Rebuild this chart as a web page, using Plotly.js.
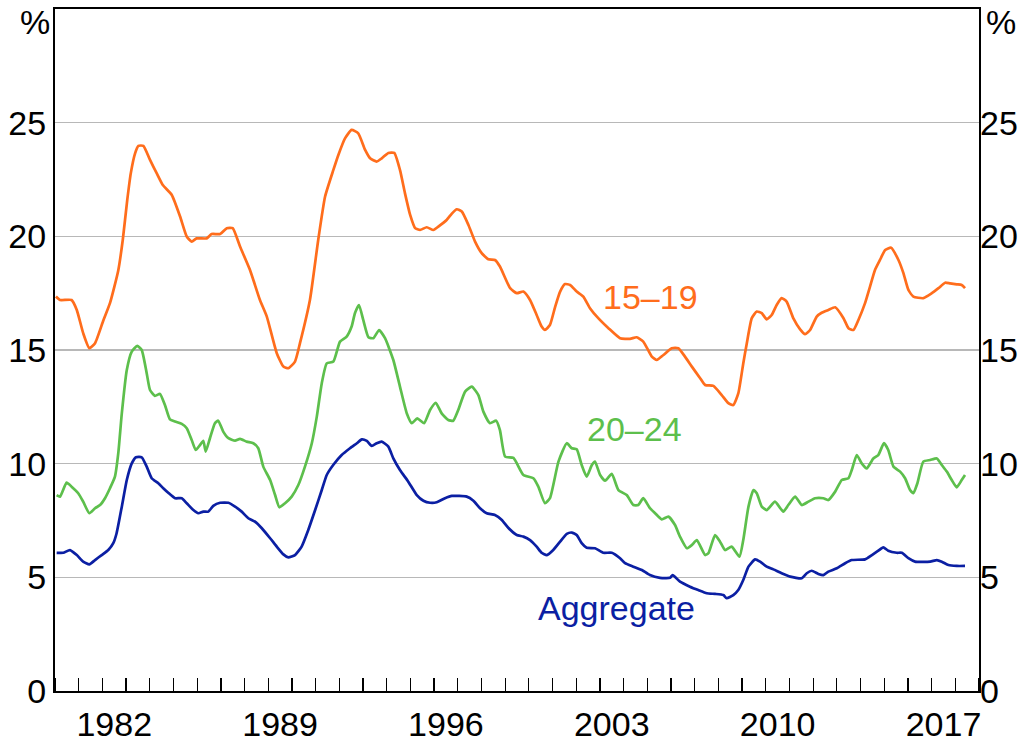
<!DOCTYPE html>
<html>
<head>
<meta charset="utf-8">
<script src="https://cdn.plot.ly/plotly-3.0.1.min.js"></script>
<style>html,body{margin:0;padding:0;background:#fff}#chart{width:1030px;height:745px}</style>
</head>
<body>
<div id="chart"></div>
<script>
// ---- Data (year as decimal, unemployment rate %) ----
const teenYears = [1980.04,1980.21,1980.70,1980.92,1981.19,1981.45,1981.69,1982.04,1982.32,1982.67,1982.86,1983.05,1983.20,1983.38,1983.52,1983.73,1984.01,1984.29,1984.55,1984.93,1985.28,1985.56,1985.77,1985.98,1986.40,1986.61,1986.97,1987.25,1987.50,1987.81,1988.23,1988.65,1988.94,1989.36,1989.64,1989.85,1990.13,1990.34,1990.76,1991.11,1991.40,1991.75,1991.96,1992.24,1992.52,1992.80,1993.09,1993.30,1993.58,1993.79,1994.07,1994.32,1994.56,1994.77,1994.99,1995.20,1995.41,1995.69,1995.97,1996.18,1996.53,1996.75,1996.96,1997.17,1997.45,1997.73,1998.01,1998.29,1998.57,1998.78,1999.21,1999.49,1999.77,2000.05,2000.33,2000.54,2000.68,2000.89,2001.11,2001.32,2001.53,2001.74,2002.02,2002.30,2002.58,2002.93,2003.36,2003.85,2004.27,2004.55,2004.83,2005.19,2005.40,2005.68,2006.03,2006.31,2006.59,2006.88,2007.23,2007.44,2007.79,2008.14,2008.42,2008.63,2008.84,2009.05,2009.20,2009.41,2009.62,2009.83,2010.04,2010.25,2010.46,2010.67,2010.88,2011.16,2011.45,2011.66,2011.87,2012.15,2012.36,2012.64,2012.93,2013.28,2013.49,2013.70,2013.91,2014.19,2014.40,2014.61,2014.82,2015.04,2015.29,2015.60,2015.81,2016.02,2016.23,2016.65,2017.01,2017.29,2017.57,2017.78,2018.06,2018.27,2018.41];
const teenRate = [17.35,17.2,17.2,16.76,15.74,15.08,15.3,16.3,17.06,18.5,19.84,21.6,22.78,23.65,23.98,23.98,23.36,22.78,22.26,21.82,20.87,19.99,19.77,19.91,19.91,20.1,20.1,20.36,20.36,19.55,18.52,17.2,16.47,14.86,14.27,14.2,14.49,15.3,17.2,19.84,21.75,22.92,23.58,24.31,24.68,24.53,23.8,23.43,23.29,23.43,23.67,23.67,22.92,21.9,20.94,20.36,20.28,20.4,20.28,20.43,20.72,21.0,21.19,21.09,20.5,19.77,19.26,18.99,18.96,18.67,17.72,17.5,17.57,17.2,16.54,16.03,15.88,16.1,16.9,17.57,17.9,17.86,17.57,17.35,16.84,16.4,15.96,15.52,15.49,15.56,15.37,14.71,14.56,14.78,15.08,15.08,14.71,14.27,13.76,13.46,13.42,13.02,12.66,12.58,13.09,14.41,15.3,16.4,16.69,16.62,16.35,16.54,16.98,17.28,17.13,16.4,15.91,15.7,15.88,16.47,16.64,16.76,16.88,16.4,15.96,15.88,16.32,17.06,17.79,18.52,18.96,19.4,19.5,18.96,18.38,17.64,17.35,17.28,17.5,17.72,17.96,17.93,17.89,17.86,17.72];

const youngYears = [1980.07,1980.21,1980.49,1980.70,1980.98,1981.19,1981.45,1981.69,1981.90,1982.11,1982.32,1982.53,1982.67,1982.82,1983.03,1983.24,1983.47,1983.66,1983.87,1984.01,1984.22,1984.43,1984.64,1984.85,1985.07,1985.35,1985.56,1985.77,1985.94,1986.12,1986.26,1986.36,1986.54,1986.75,1986.89,1987.10,1987.32,1987.60,1987.81,1988.09,1988.37,1988.58,1988.79,1989.08,1989.29,1989.47,1989.71,1989.99,1990.27,1990.55,1990.84,1991.05,1991.26,1991.47,1991.75,1992.03,1992.31,1992.52,1992.66,1992.83,1993.01,1993.23,1993.44,1993.68,1993.93,1994.28,1994.56,1994.85,1995.06,1995.29,1995.58,1995.83,1996.07,1996.32,1996.60,1996.81,1997.02,1997.31,1997.59,1997.87,1998.08,1998.36,1998.62,1998.78,1999.00,1999.35,1999.77,2000.19,2000.40,2000.68,2000.89,2001.25,2001.60,2001.81,2002.02,2002.23,2002.44,2002.66,2002.79,2003.01,2003.22,2003.50,2003.78,2004.13,2004.41,2004.62,2004.83,2005.11,2005.33,2005.61,2005.89,2006.17,2006.38,2006.67,2006.88,2007.09,2007.44,2007.58,2007.86,2008.07,2008.28,2008.56,2008.89,2009.05,2009.27,2009.48,2009.62,2009.83,2010.04,2010.39,2010.74,2010.95,2011.24,2011.52,2011.80,2012.08,2012.43,2012.64,2012.93,2013.21,2013.49,2013.63,2013.84,2014.05,2014.26,2014.54,2014.75,2014.99,2015.17,2015.39,2015.67,2015.88,2016.09,2016.23,2016.40,2016.65,2016.94,2017.22,2017.43,2017.64,2017.85,2018.06,2018.27,2018.41];
const youngRate = [8.62,8.55,9.17,8.99,8.7,8.33,7.82,8.04,8.18,8.48,8.92,9.43,10.45,12.21,14.12,14.93,15.18,15.0,13.98,13.24,12.98,13.07,12.58,11.95,11.85,11.75,11.56,11.04,10.6,10.82,11.01,10.53,11.12,11.78,11.89,11.41,11.12,11.01,11.09,10.97,10.9,10.68,9.87,9.28,8.62,8.08,8.26,8.55,9.06,9.87,10.9,12.07,13.54,14.41,14.49,15.37,15.59,16.03,16.62,16.98,16.32,15.56,15.52,15.88,15.52,14.56,13.39,12.21,11.78,11.99,11.78,12.36,12.68,12.21,11.92,11.89,12.36,13.17,13.39,13.02,12.29,11.78,11.89,11.48,10.31,10.25,9.5,9.36,8.99,8.26,8.48,10.09,10.9,10.68,10.63,9.94,9.43,9.94,10.09,9.5,9.25,9.55,8.84,8.62,8.18,8.18,8.48,8.04,7.82,7.55,7.67,7.3,6.79,6.28,6.42,6.64,5.98,6.06,6.86,6.57,6.2,6.35,5.91,6.64,8.11,8.84,8.7,8.11,7.96,8.33,7.89,8.18,8.55,8.18,8.33,8.48,8.48,8.4,8.77,9.28,9.36,9.72,10.38,10.01,9.79,10.23,10.38,10.9,10.6,9.87,9.65,9.36,8.84,8.7,9.14,10.09,10.16,10.23,9.94,9.65,9.28,8.96,9.28,9.5];

const aggYears = [1980.07,1980.35,1980.63,1980.92,1981.19,1981.45,1981.69,1981.97,1982.25,1982.46,1982.60,1982.82,1983.03,1983.24,1983.42,1983.66,1983.87,1984.08,1984.36,1984.57,1984.78,1985.07,1985.35,1985.56,1985.84,1986.05,1986.26,1986.47,1986.68,1986.97,1987.32,1987.60,1987.88,1988.16,1988.44,1988.73,1989.08,1989.36,1989.64,1989.85,1990.13,1990.41,1990.69,1990.98,1991.26,1991.47,1991.75,1992.10,1992.45,1992.74,1992.95,1993.16,1993.37,1993.58,1993.79,1994.07,1994.28,1994.56,1994.91,1995.27,1995.55,1995.83,1996.11,1996.46,1996.75,1997.38,1997.66,1997.94,1998.22,1998.57,1998.86,1999.13,1999.49,1999.77,2000.05,2000.33,2000.54,2000.76,2001.03,2001.32,2001.60,2001.81,2002.02,2002.23,2002.44,2002.79,2003.14,2003.50,2003.85,2004.06,2004.41,2004.77,2005.11,2005.54,2005.96,2006.07,2006.38,2006.80,2007.15,2007.51,2007.86,2008.21,2008.35,2008.63,2008.84,2009.05,2009.27,2009.55,2009.76,2010.04,2010.32,2010.67,2011.03,2011.52,2011.73,2011.94,2012.22,2012.43,2012.64,2013.00,2013.35,2013.63,2014.19,2014.48,2014.75,2014.96,2015.17,2015.53,2015.74,2016.02,2016.30,2016.94,2017.22,2017.43,2017.71,2018.06,2018.41];
const aggRate = [6.08,6.08,6.2,5.98,5.69,5.57,5.76,5.98,6.2,6.5,6.94,8.11,9.28,10.01,10.28,10.28,9.87,9.36,9.14,8.92,8.72,8.48,8.48,8.26,7.96,7.82,7.89,7.89,8.14,8.28,8.28,8.11,7.89,7.6,7.45,7.16,6.72,6.35,6.01,5.88,5.98,6.35,7.08,7.96,8.84,9.5,9.95,10.38,10.68,10.9,11.07,11.0,10.78,10.9,10.97,10.75,10.23,9.72,9.21,8.62,8.37,8.28,8.3,8.48,8.58,8.55,8.37,8.04,7.82,7.74,7.52,7.18,6.86,6.79,6.64,6.35,6.08,5.98,6.2,6.57,6.91,6.97,6.86,6.5,6.3,6.28,6.08,6.08,5.84,5.62,5.47,5.32,5.1,4.98,4.98,5.1,4.81,4.59,4.44,4.3,4.27,4.22,4.08,4.22,4.44,4.88,5.47,5.79,5.69,5.47,5.35,5.18,5.03,4.96,5.18,5.29,5.15,5.1,5.25,5.4,5.62,5.76,5.79,5.98,6.17,6.32,6.17,6.08,6.08,5.84,5.69,5.69,5.76,5.69,5.54,5.5,5.5];

const seriesNames = ['15–19', '20–24', 'Aggregate'];
const yTickVals = [0, 5, 10, 15, 20, 25];
const xLabelYears = ['1982', '1989', '1996', '2003', '2010', '2017'];

// ---- Styles ----
const colors = ['#ff6d1c', '#5dbf4c', '#0b1fa3'];
const FONT = '"Liberation Sans", Arial, sans-serif';
const fs = 34;

const lineStyle = c => ({color: c, width: 2.7, shape: 'spline', smoothing: 0.5});
const traces = [
  {x: teenYears, y: teenRate, name: seriesNames[0], type: 'scatter', mode: 'lines', line: lineStyle(colors[0])},
  {x: youngYears, y: youngRate, name: seriesNames[1], type: 'scatter', mode: 'lines', line: lineStyle(colors[1])},
  {x: aggYears, y: aggRate, name: seriesNames[2], type: 'scatter', mode: 'lines', line: lineStyle(colors[2])},
  // invisible trace to anchor the right-hand axis
  {x: [1980], y: [0], yaxis: 'y2', type: 'scatter', mode: 'markers', marker: {opacity: 0}, hoverinfo: 'skip', showlegend: false}
];

const labelTickVals = xLabelYears.map(s => Number(s) + 0.5);

const layout = {
  width: 1030, height: 745,
  margin: {l: 55, r: 51, t: 9, b: 54},
  paper_bgcolor: '#fff', plot_bgcolor: '#fff',
  showlegend: false,
  font: {family: FONT, size: fs, color: '#000'},
  xaxis: {
    range: [1980, 2019],
    tickmode: 'array', tickvals: labelTickVals, ticktext: xLabelYears,
    ticks: '', showgrid: false, zeroline: false,
    showline: true, linecolor: '#000', linewidth: 2, mirror: true,
    tickfont: {family: FONT, size: fs, color: '#000'},
    ticklabelstandoff: 2,
    minor: {tickmode: 'linear', tick0: 1980, dtick: 1, ticks: 'inside', ticklen: 13, tickwidth: 1.3, tickcolor: '#000', showgrid: false}
  },
  yaxis: {
    range: [0, 30],
    tickmode: 'array', tickvals: yTickVals, ticktext: yTickVals.map(String),
    ticks: '', showgrid: true, gridcolor: '#b8b8b8', gridwidth: 1.3, zeroline: false,
    showline: true, linecolor: '#000', linewidth: 2, mirror: true,
    tickfont: {family: FONT, size: fs, color: '#000'}
  },
  yaxis2: {
    range: [0, 30], overlaying: 'y', side: 'right',
    tickmode: 'array', tickvals: yTickVals, ticktext: yTickVals.map(String),
    ticks: '', showgrid: false, zeroline: false, showline: false,
    tickfont: {family: FONT, size: fs, color: '#000'}
  },
  annotations: [
    {text: '%', xref: 'paper', yref: 'paper', x: 0, y: 0.981, xanchor: 'right', yanchor: 'middle', xshift: -3, showarrow: false, font: {family: FONT, size: fs, color: '#000'}},
    {text: '%', xref: 'paper', yref: 'paper', x: 1, y: 0.981, xanchor: 'left', yanchor: 'middle', xshift: 5, showarrow: false, font: {family: FONT, size: fs, color: '#000'}},
    {text: seriesNames[0], x: 2005.12, y: 17.33, xref: 'x', yref: 'y', showarrow: false, font: {family: FONT, size: fs, color: colors[0]}},
    {text: seriesNames[1], x: 2004.48, y: 11.53, xref: 'x', yref: 'y', showarrow: false, font: {family: FONT, size: fs, color: colors[1]}},
    {text: seriesNames[2], x: 2003.72, y: 3.65, xref: 'x', yref: 'y', showarrow: false, font: {family: FONT, size: fs, color: colors[2]}}
  ]
};

Plotly.newPlot('chart', traces, layout, {displayModeBar: false, staticPlot: true});
</script>
</body>
</html>
